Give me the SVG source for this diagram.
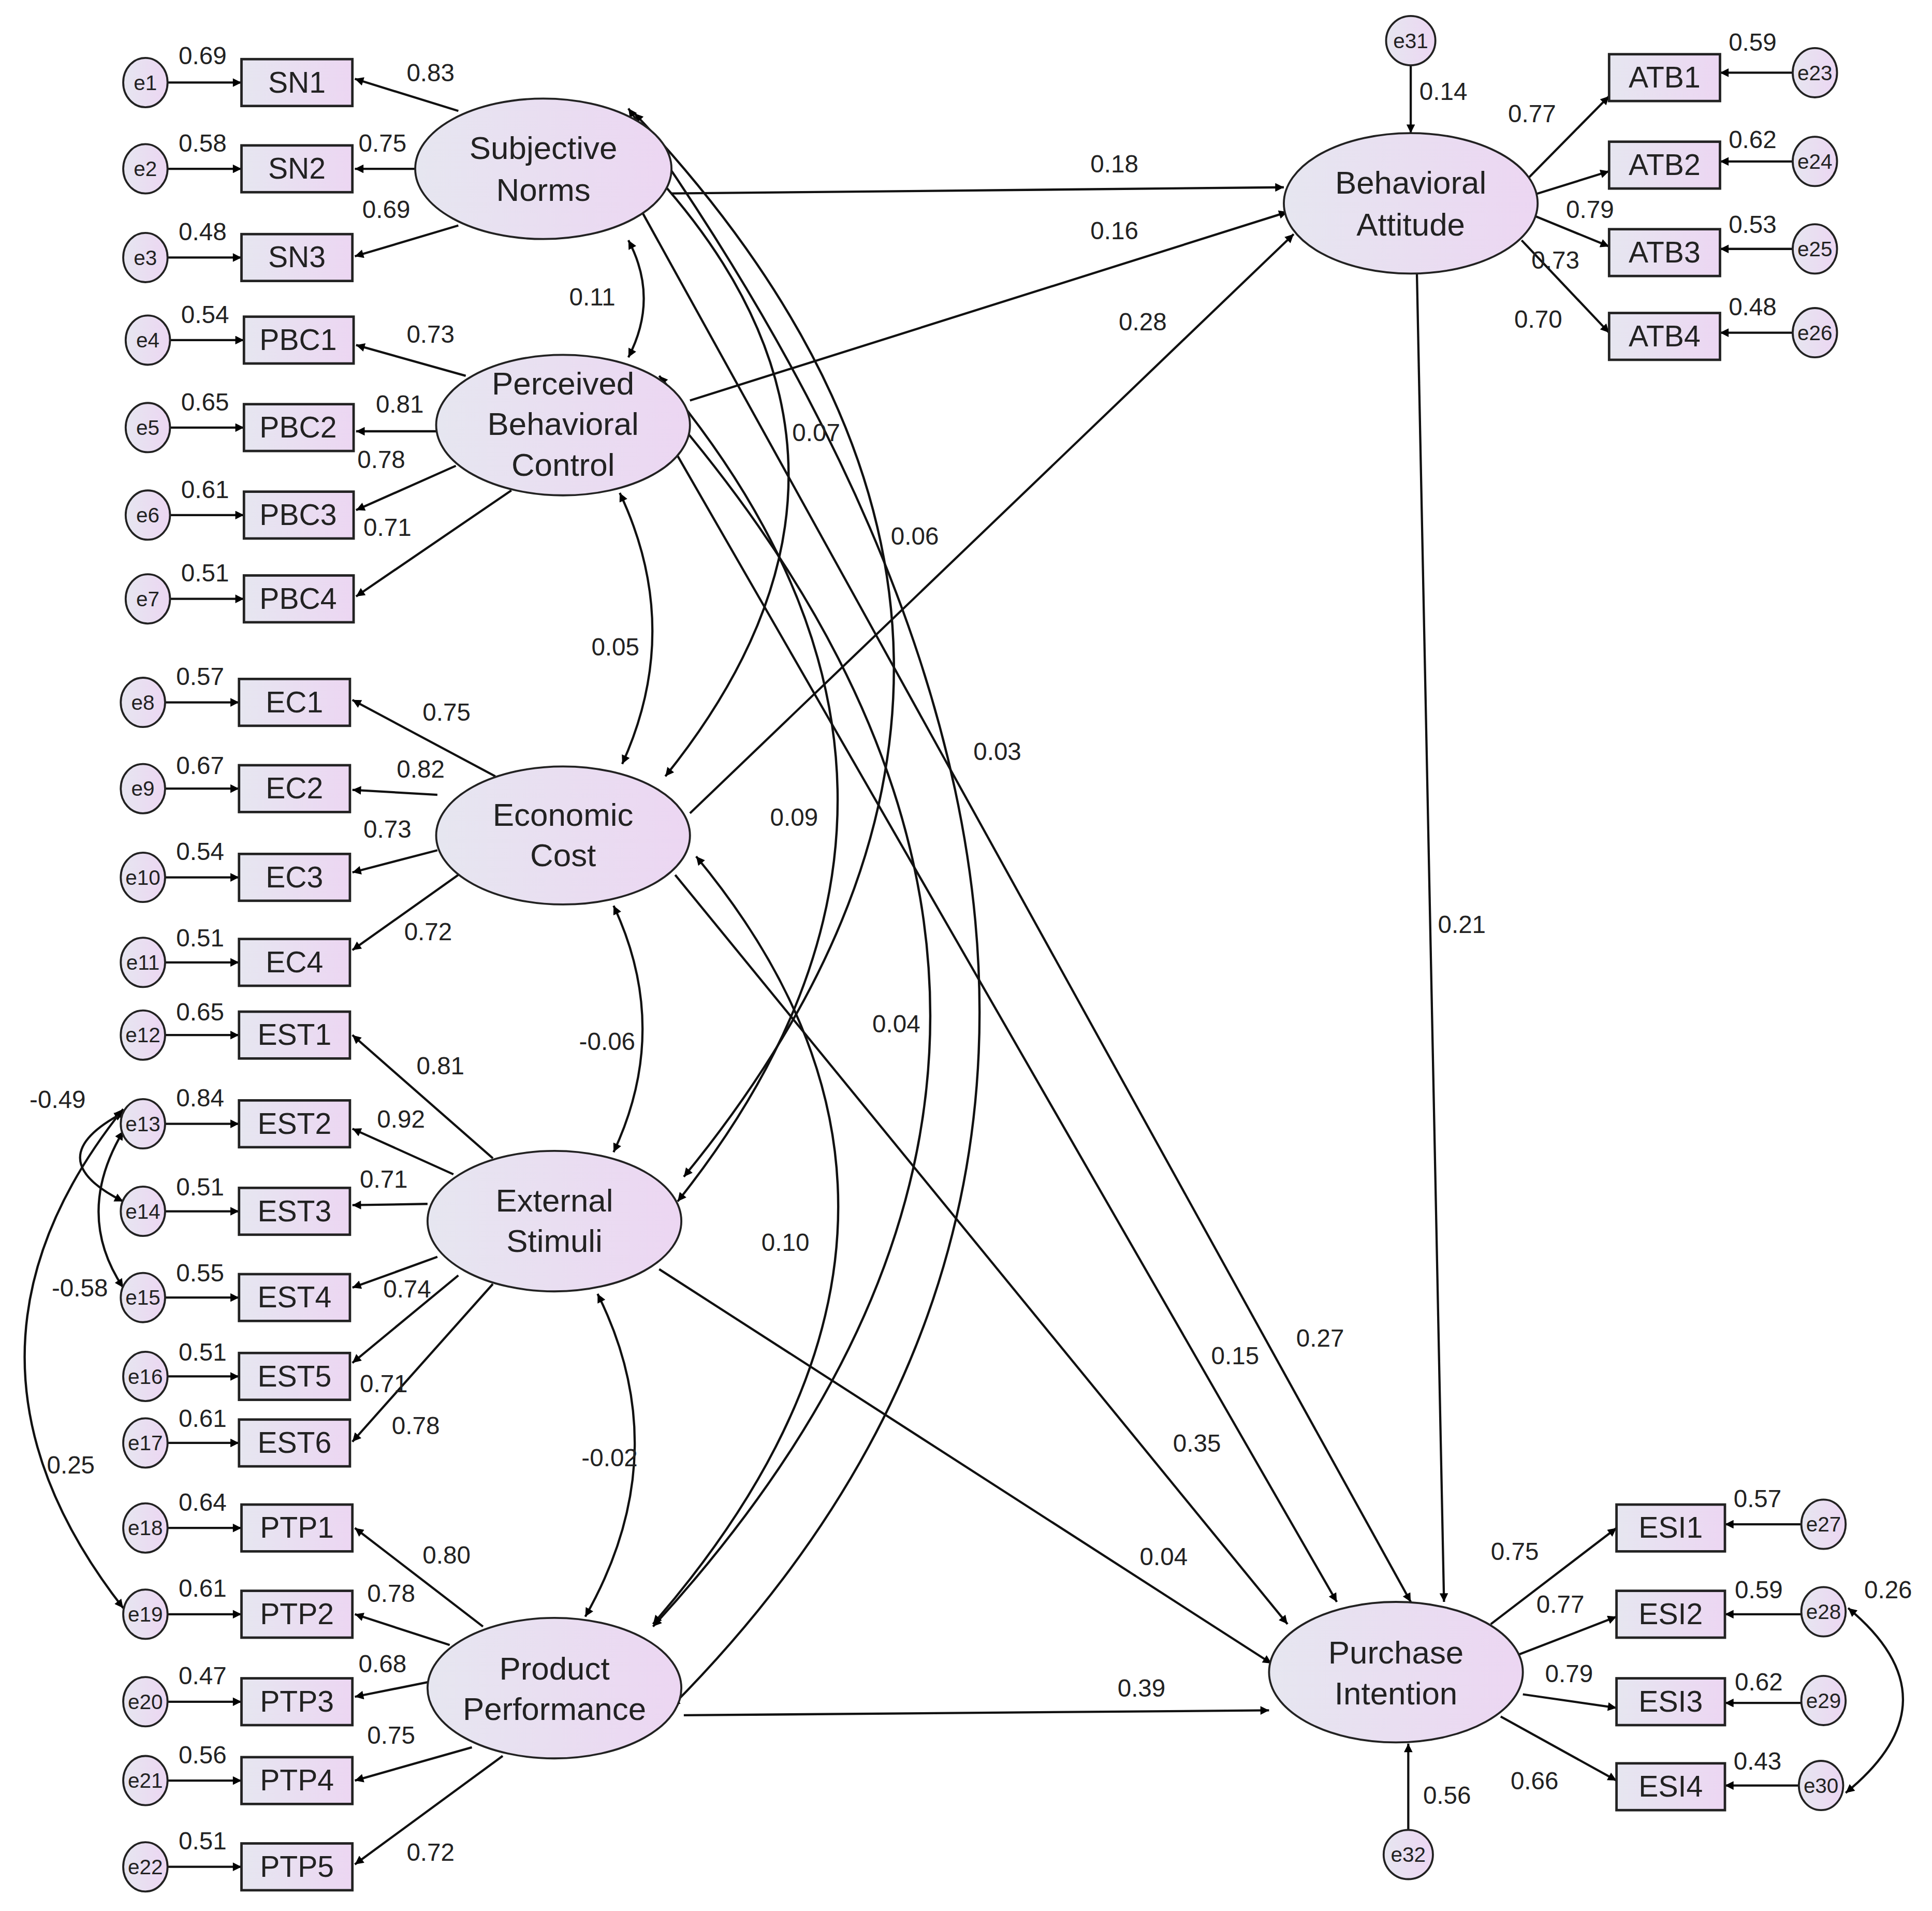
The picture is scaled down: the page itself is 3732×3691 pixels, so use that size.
<svg xmlns="http://www.w3.org/2000/svg" width="3732" height="3691" viewBox="0 0 3732 3691">
<defs>
<linearGradient id="g" x1="0" y1="0" x2="1" y2="0"><stop offset="0" stop-color="#e6e6f0"/><stop offset="1" stop-color="#ecd6f2"/></linearGradient>
<marker id="a" viewBox="0 0 10 10" refX="10" refY="5" markerWidth="9" markerHeight="7" markerUnits="userSpaceOnUse" orient="auto-start-reverse"><path d="M0,0L10,5L0,10z" fill="#000"/></marker>
</defs>
<style>
text{font-family:"Liberation Sans",Arial,sans-serif;fill:#222}
.n{font-size:20px}
.b{font-size:24px;text-anchor:middle}
.l{font-size:26px;text-anchor:middle}
.e{font-size:17px;text-anchor:middle}
.el{fill:url(#g);stroke:#222;stroke-width:1.6}
.bx{fill:url(#g);stroke:#222;stroke-width:2}
.c path{fill:none;stroke:#111;stroke-width:1.8}
.c .s{marker-end:url(#a)}
.c .d{marker-end:url(#a);marker-start:url(#a)}
</style>
<rect width="3732" height="3691" fill="#fff"/>
<g transform="scale(2.38)">
<g class="c" id="connectors">
<path class="s" d="M136,67H196"/><path class="s" d="M136,137H196"/><path class="s" d="M136,209H196"/>
<path class="s" d="M138,276H198"/><path class="s" d="M138,347H198"/><path class="s" d="M138,418H198"/><path class="s" d="M138,486H198"/>
<path class="s" d="M134,570H194"/><path class="s" d="M134,640H194"/><path class="s" d="M134,712H194"/><path class="s" d="M134,781H194"/>
<path class="s" d="M134,840H194"/><path class="s" d="M134,912H194"/><path class="s" d="M134,983H194"/><path class="s" d="M134,1053H194"/><path class="s" d="M136,1117H194"/><path class="s" d="M136,1171H194"/>
<path class="s" d="M136,1240H196"/><path class="s" d="M136,1310H196"/><path class="s" d="M136,1381H196"/><path class="s" d="M136,1445H196"/><path class="s" d="M136,1515H196"/>
<path class="s" d="M1455,59H1396"/><path class="s" d="M1455,131H1396"/><path class="s" d="M1455,202H1396"/><path class="s" d="M1455,270H1396"/>
<path class="s" d="M1462,1237H1400"/><path class="s" d="M1462,1310H1400"/><path class="s" d="M1462,1382H1400"/><path class="s" d="M1460,1449H1400"/>
<path class="s" d="M372,90L288,64"/><path class="s" d="M338,137H288"/><path class="s" d="M372,183L288,208"/>
<path class="s" d="M378,305L289,280"/><path class="s" d="M354,350H289"/><path class="s" d="M370,378L289,414"/><path class="s" d="M415,398L289,484"/>
<path class="s" d="M402,630L286,568"/><path class="s" d="M355,645L286,641"/><path class="s" d="M355,690L286,708"/><path class="s" d="M372,710L286,771"/>
<path class="s" d="M400,940L286,840"/><path class="s" d="M368,953L286,916"/><path class="s" d="M347,977L286,978"/><path class="s" d="M355,1020L286,1045"/><path class="s" d="M372,1035L286,1106"/><path class="s" d="M400,1042L286,1170"/>
<path class="s" d="M392,1320L288,1240"/><path class="s" d="M365,1335L288,1310"/><path class="s" d="M348,1365L288,1377"/><path class="s" d="M383,1418L288,1445"/><path class="s" d="M408,1425L288,1513"/>
<path class="s" d="M1240,145L1306,78"/><path class="s" d="M1245,158L1306,139"/><path class="s" d="M1245,175L1306,200"/><path class="s" d="M1235,195L1306,270"/>
<path class="s" d="M1210,1318L1312,1240"/><path class="s" d="M1232,1343L1312,1312"/><path class="s" d="M1236,1375L1312,1386"/><path class="s" d="M1218,1393L1312,1445"/>
<path class="s" d="M545,157L1042,152"/><path class="s" d="M560,325L1045,172"/><path class="s" d="M560,660L1050,190"/>
<path class="s" d="M1150,222L1172,1300"/><path class="s" d="M520,170L1145,1300"/><path class="s" d="M550,370L1085,1300"/>
<path class="s" d="M548,710L1045,1318"/><path class="s" d="M535,1030L1032,1350"/><path class="s" d="M555,1392L1030,1388"/>
<path class="s" d="M1145,53V108"/><path class="s" d="M1143,1486V1415"/>
<path class="d" d="M510,195Q535,242 510,290"/>
<path class="d" d="M503,400Q555,510 505,620"/>
<path class="d" d="M498,735Q545,835 498,935"/>
<path class="d" d="M485,1050Q550,1180 475,1312"/>
<path class="d" d="M530,140Q745,375 540,630"/>
<path class="d" d="M515,92Q915,516 555,955"/>
<path class="d" d="M510,88Q1062,864 545,1385"/>
<path class="d" d="M535,305Q817,640 550,975"/>
<path class="d" d="M540,330Q975,835 530,1320"/>
<path class="d" d="M565,695Q812,993 530,1318"/>
<path class="d" d="M100,903Q30,940 100,975"/>
<path class="d" d="M100,918Q60,985 100,1045"/>
<path class="d" d="M100,900Q-60,1100 100,1305"/>
<path class="d" d="M1500,1305Q1590,1380 1498,1455"/>
</g>
<g id="SN"><ellipse class="el" cx="441" cy="137" rx="104" ry="57"/><text class="l" x="441" y="129">Subjective</text><text class="l" x="441" y="163">Norms</text></g>
<g id="PBC"><ellipse class="el" cx="457" cy="345" rx="103" ry="57"/><text class="l" x="457" y="320">Perceived</text><text class="l" x="457" y="353">Behavioral</text><text class="l" x="457" y="386">Control</text></g>
<g id="EC"><ellipse class="el" cx="457" cy="678" rx="103" ry="56"/><text class="l" x="457" y="670">Economic</text><text class="l" x="457" y="703">Cost</text></g>
<g id="ES"><ellipse class="el" cx="450" cy="991" rx="103" ry="57"/><text class="l" x="450" y="983">External</text><text class="l" x="450" y="1016">Stimuli</text></g>
<g id="PP"><ellipse class="el" cx="450" cy="1370" rx="103" ry="57"/><text class="l" x="450" y="1363">Product</text><text class="l" x="450" y="1396">Performance</text></g>
<g id="BA"><ellipse class="el" cx="1145" cy="165" rx="103" ry="57"/><text class="l" x="1145" y="157">Behavioral</text><text class="l" x="1145" y="191">Attitude</text></g>
<g id="PI"><ellipse class="el" cx="1133" cy="1357" rx="103" ry="57"/><text class="l" x="1133" y="1350">Purchase</text><text class="l" x="1133" y="1383">Intention</text></g>
<g id="boxes">
<g id="SN1"><rect class="bx" x="196" y="48" width="90" height="38"/><text class="b" x="241" y="75">SN1</text></g>
<g id="SN2"><rect class="bx" x="196" y="118" width="90" height="38"/><text class="b" x="241" y="145">SN2</text></g>
<g id="SN3"><rect class="bx" x="196" y="190" width="90" height="38"/><text class="b" x="241" y="217">SN3</text></g>
<g id="PBC1"><rect class="bx" x="198" y="257" width="89" height="38"/><text class="b" x="242" y="284">PBC1</text></g>
<g id="PBC2"><rect class="bx" x="198" y="328" width="89" height="38"/><text class="b" x="242" y="355">PBC2</text></g>
<g id="PBC3"><rect class="bx" x="198" y="399" width="89" height="38"/><text class="b" x="242" y="426">PBC3</text></g>
<g id="PBC4"><rect class="bx" x="198" y="467" width="89" height="38"/><text class="b" x="242" y="494">PBC4</text></g>
<g id="EC1"><rect class="bx" x="194" y="551" width="90" height="38"/><text class="b" x="239" y="578">EC1</text></g>
<g id="EC2"><rect class="bx" x="194" y="621" width="90" height="38"/><text class="b" x="239" y="648">EC2</text></g>
<g id="EC3"><rect class="bx" x="194" y="693" width="90" height="38"/><text class="b" x="239" y="720">EC3</text></g>
<g id="EC4"><rect class="bx" x="194" y="762" width="90" height="38"/><text class="b" x="239" y="789">EC4</text></g>
<g id="EST1"><rect class="bx" x="194" y="821" width="90" height="38"/><text class="b" x="239" y="848">EST1</text></g>
<g id="EST2"><rect class="bx" x="194" y="893" width="90" height="38"/><text class="b" x="239" y="920">EST2</text></g>
<g id="EST3"><rect class="bx" x="194" y="964" width="90" height="38"/><text class="b" x="239" y="991">EST3</text></g>
<g id="EST4"><rect class="bx" x="194" y="1034" width="90" height="38"/><text class="b" x="239" y="1061">EST4</text></g>
<g id="EST5"><rect class="bx" x="194" y="1098" width="90" height="38"/><text class="b" x="239" y="1125">EST5</text></g>
<g id="EST6"><rect class="bx" x="194" y="1152" width="90" height="38"/><text class="b" x="239" y="1179">EST6</text></g>
<g id="PTP1"><rect class="bx" x="196" y="1221" width="90" height="38"/><text class="b" x="241" y="1248">PTP1</text></g>
<g id="PTP2"><rect class="bx" x="196" y="1291" width="90" height="38"/><text class="b" x="241" y="1318">PTP2</text></g>
<g id="PTP3"><rect class="bx" x="196" y="1362" width="90" height="38"/><text class="b" x="241" y="1389">PTP3</text></g>
<g id="PTP4"><rect class="bx" x="196" y="1426" width="90" height="38"/><text class="b" x="241" y="1453">PTP4</text></g>
<g id="PTP5"><rect class="bx" x="196" y="1496" width="90" height="38"/><text class="b" x="241" y="1523">PTP5</text></g>
<g id="ATB1"><rect class="bx" x="1306" y="44" width="90" height="38"/><text class="b" x="1351" y="71">ATB1</text></g>
<g id="ATB2"><rect class="bx" x="1306" y="115" width="90" height="38"/><text class="b" x="1351" y="142">ATB2</text></g>
<g id="ATB3"><rect class="bx" x="1306" y="186" width="90" height="38"/><text class="b" x="1351" y="213">ATB3</text></g>
<g id="ATB4"><rect class="bx" x="1306" y="254" width="90" height="38"/><text class="b" x="1351" y="281">ATB4</text></g>
<g id="ESI1"><rect class="bx" x="1312" y="1221" width="88" height="38"/><text class="b" x="1356" y="1248">ESI1</text></g>
<g id="ESI2"><rect class="bx" x="1312" y="1291" width="88" height="38"/><text class="b" x="1356" y="1318">ESI2</text></g>
<g id="ESI3"><rect class="bx" x="1312" y="1362" width="88" height="38"/><text class="b" x="1356" y="1389">ESI3</text></g>
<g id="ESI4"><rect class="bx" x="1312" y="1431" width="88" height="38"/><text class="b" x="1356" y="1458">ESI4</text></g>
</g>
<g id="errors">
<g id="e1"><ellipse class="el" cx="118" cy="67" rx="18" ry="20"/><text class="e" x="118" y="73">e1</text></g>
<g id="e2"><ellipse class="el" cx="118" cy="137" rx="18" ry="20"/><text class="e" x="118" y="143">e2</text></g>
<g id="e3"><ellipse class="el" cx="118" cy="209" rx="18" ry="20"/><text class="e" x="118" y="215">e3</text></g>
<g id="e4"><ellipse class="el" cx="120" cy="276" rx="18" ry="20"/><text class="e" x="120" y="282">e4</text></g>
<g id="e5"><ellipse class="el" cx="120" cy="347" rx="18" ry="20"/><text class="e" x="120" y="353">e5</text></g>
<g id="e6"><ellipse class="el" cx="120" cy="418" rx="18" ry="20"/><text class="e" x="120" y="424">e6</text></g>
<g id="e7"><ellipse class="el" cx="120" cy="486" rx="18" ry="20"/><text class="e" x="120" y="492">e7</text></g>
<g id="e8"><ellipse class="el" cx="116" cy="570" rx="18" ry="20"/><text class="e" x="116" y="576">e8</text></g>
<g id="e9"><ellipse class="el" cx="116" cy="640" rx="18" ry="20"/><text class="e" x="116" y="646">e9</text></g>
<g id="e10"><ellipse class="el" cx="116" cy="712" rx="18" ry="20"/><text class="e" x="116" y="718">e10</text></g>
<g id="e11"><ellipse class="el" cx="116" cy="781" rx="18" ry="20"/><text class="e" x="116" y="787">e11</text></g>
<g id="e12"><ellipse class="el" cx="116" cy="840" rx="18" ry="20"/><text class="e" x="116" y="846">e12</text></g>
<g id="e13"><ellipse class="el" cx="116" cy="912" rx="18" ry="20"/><text class="e" x="116" y="918">e13</text></g>
<g id="e14"><ellipse class="el" cx="116" cy="983" rx="18" ry="20"/><text class="e" x="116" y="989">e14</text></g>
<g id="e15"><ellipse class="el" cx="116" cy="1053" rx="18" ry="20"/><text class="e" x="116" y="1059">e15</text></g>
<g id="e16"><ellipse class="el" cx="118" cy="1117" rx="18" ry="20"/><text class="e" x="118" y="1123">e16</text></g>
<g id="e17"><ellipse class="el" cx="118" cy="1171" rx="18" ry="20"/><text class="e" x="118" y="1177">e17</text></g>
<g id="e18"><ellipse class="el" cx="118" cy="1240" rx="18" ry="20"/><text class="e" x="118" y="1246">e18</text></g>
<g id="e19"><ellipse class="el" cx="118" cy="1310" rx="18" ry="20"/><text class="e" x="118" y="1316">e19</text></g>
<g id="e20"><ellipse class="el" cx="118" cy="1381" rx="18" ry="20"/><text class="e" x="118" y="1387">e20</text></g>
<g id="e21"><ellipse class="el" cx="118" cy="1445" rx="18" ry="20"/><text class="e" x="118" y="1451">e21</text></g>
<g id="e22"><ellipse class="el" cx="118" cy="1515" rx="18" ry="20"/><text class="e" x="118" y="1521">e22</text></g>
<g id="e23"><ellipse class="el" cx="1473" cy="59" rx="18" ry="20"/><text class="e" x="1473" y="65">e23</text></g>
<g id="e24"><ellipse class="el" cx="1473" cy="131" rx="18" ry="20"/><text class="e" x="1473" y="137">e24</text></g>
<g id="e25"><ellipse class="el" cx="1473" cy="202" rx="18" ry="20"/><text class="e" x="1473" y="208">e25</text></g>
<g id="e26"><ellipse class="el" cx="1473" cy="270" rx="18" ry="20"/><text class="e" x="1473" y="276">e26</text></g>
<g id="e27"><ellipse class="el" cx="1480" cy="1237" rx="18" ry="20"/><text class="e" x="1480" y="1243">e27</text></g>
<g id="e28"><ellipse class="el" cx="1480" cy="1308" rx="18" ry="20"/><text class="e" x="1480" y="1314">e28</text></g>
<g id="e29"><ellipse class="el" cx="1480" cy="1380" rx="18" ry="20"/><text class="e" x="1480" y="1386">e29</text></g>
<g id="e30"><ellipse class="el" cx="1478" cy="1449" rx="18" ry="20"/><text class="e" x="1478" y="1455">e30</text></g>
<g id="e31"><ellipse class="el" cx="1145" cy="33" rx="20" ry="20"/><text class="e" x="1145" y="39">e31</text></g>
<g id="e32"><ellipse class="el" cx="1143" cy="1505" rx="20" ry="20"/><text class="e" x="1143" y="1511">e32</text></g>
</g>
<g id="labels" class="n">
<text x="145" y="52">0.69</text><text x="145" y="123">0.58</text><text x="145" y="195">0.48</text>
<text x="147" y="262">0.54</text><text x="147" y="333">0.65</text><text x="147" y="404">0.61</text><text x="147" y="472">0.51</text>
<text x="143" y="556">0.57</text><text x="143" y="628">0.67</text><text x="143" y="698">0.54</text><text x="143" y="768">0.51</text>
<text x="143" y="828">0.65</text><text x="143" y="898">0.84</text><text x="143" y="970">0.51</text><text x="143" y="1040">0.55</text><text x="145" y="1104">0.51</text><text x="145" y="1158">0.61</text>
<text x="145" y="1226">0.64</text><text x="145" y="1296">0.61</text><text x="145" y="1367">0.47</text><text x="145" y="1431">0.56</text><text x="145" y="1501">0.51</text>
<text x="330" y="66">0.83</text><text x="291" y="123">0.75</text><text x="294" y="177">0.69</text>
<text x="330" y="278">0.73</text><text x="305" y="335">0.81</text><text x="290" y="380">0.78</text><text x="295" y="435">0.71</text>
<text x="343" y="585">0.75</text><text x="322" y="631">0.82</text><text x="295" y="680">0.73</text><text x="328" y="763">0.72</text>
<text x="338" y="872">0.81</text><text x="306" y="915">0.92</text><text x="292" y="964">0.71</text><text x="311" y="1053">0.74</text><text x="292" y="1130">0.71</text><text x="318" y="1164">0.78</text>
<text x="343" y="1269">0.80</text><text x="298" y="1300">0.78</text><text x="291" y="1357">0.68</text><text x="298" y="1415">0.75</text><text x="330" y="1510">0.72</text>
<text x="462" y="248">0.11</text><text x="480" y="532">0.05</text><text x="470" y="852">-0.06</text><text x="472" y="1190">-0.02</text>
<text x="643" y="358">0.07</text><text x="723" y="442">0.06</text><text x="790" y="617">0.03</text><text x="625" y="670">0.09</text><text x="708" y="838">0.04</text><text x="618" y="1015">0.10</text>
<text x="24" y="899">-0.49</text><text x="42" y="1052">-0.58</text><text x="38" y="1196">0.25</text>
<text x="885" y="140">0.18</text><text x="885" y="194">0.16</text><text x="908" y="268">0.28</text><text x="1167" y="757">0.21</text>
<text x="1052" y="1093">0.27</text><text x="983" y="1107">0.15</text><text x="952" y="1178">0.35</text><text x="925" y="1270">0.04</text><text x="907" y="1377">0.39</text>
<text x="1152" y="81">0.14</text><text x="1155" y="1464">0.56</text>
<text x="1224" y="99">0.77</text><text x="1271" y="177">0.79</text><text x="1243" y="218">0.73</text><text x="1229" y="266">0.70</text>
<text x="1403" y="41">0.59</text><text x="1403" y="120">0.62</text><text x="1403" y="189">0.53</text><text x="1403" y="256">0.48</text>
<text x="1210" y="1266">0.75</text><text x="1247" y="1309">0.77</text><text x="1254" y="1365">0.79</text><text x="1226" y="1452">0.66</text>
<text x="1407" y="1223">0.57</text><text x="1408" y="1297">0.59</text><text x="1408" y="1372">0.62</text><text x="1407" y="1436">0.43</text><text x="1513" y="1297">0.26</text>
</g>
</g>
</svg>
